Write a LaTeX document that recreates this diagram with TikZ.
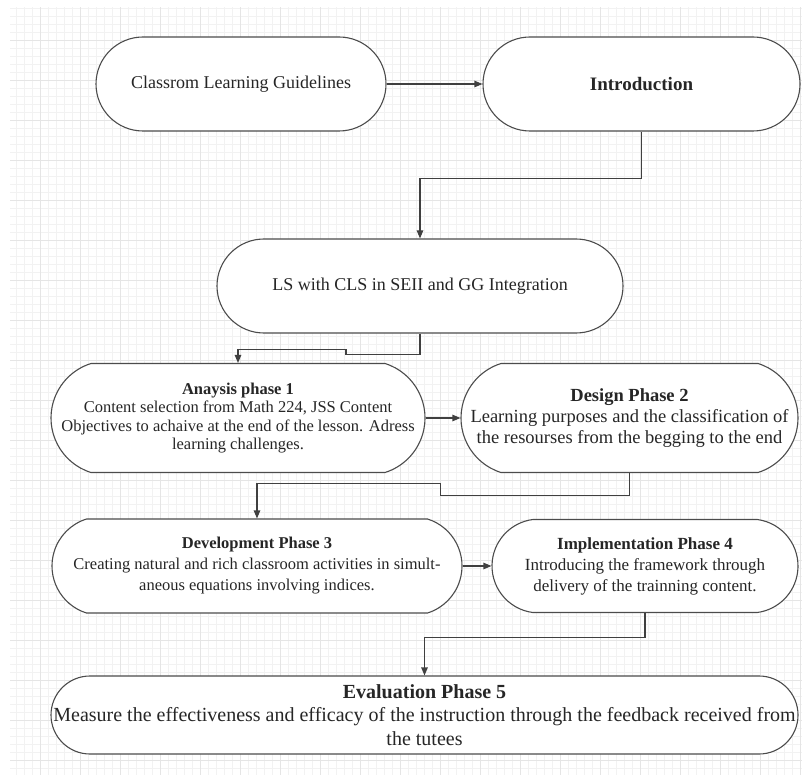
\documentclass[tikz,border=0pt]{standalone}
\usepackage{fontspec}
\setmainfont{Liberation Serif}
\usetikzlibrary{arrows.meta,shapes.misc}
\tikzset{
  % flow boxes: empty rounded ends, text sits in a centred label
  flowbox/.style = {rounded rectangle, draw=black!70, fill=white, inner sep=0pt, line width=1.1pt},
  startbox/.style = {flowbox, rounded rectangle arc length=180, minimum height=94pt},
  phasebox/.style = {flowbox, rounded rectangle arc length=145},
  boxtext/.style = {align=center, inner sep=0pt, text=black!85, font=\fontsize{18}{21}\selectfont},
  phasetext/.style = {boxtext, font=\fontsize{18.5}{21}\selectfont},
  smalltext/.style = {boxtext, font=\fontsize{16.5}{18.5}\selectfont},
  link/.style = {draw=black!75, line width=1.1pt, -{Triangle[length=8pt,width=6.5pt]}}
}

\begin{document}
\begin{tikzpicture}[x=1pt,y=-1pt]
    \useasboundingbox (0,0) rectangle (802,775);
    % background grid
    \draw[gray!10, step=8pt] (10pt,-775pt) grid (802pt,-7pt);
    \draw[gray!20, step=40pt] (10pt,-775pt) grid (802pt,-7pt);
    % Start nodes:
    \node [startbox, minimum width=290pt][label={[boxtext]center:{Classrom Learning Guidelines}}] (guide) at (241,84) {};
    \node [startbox, minimum width=317pt][label={[boxtext, font=\fontsize{19}{21}\selectfont]center:{\textbf{Introduction}}}] (intro) at (641.5,84) {};
    \node [startbox, minimum width=406pt][label={[boxtext]center:{LS with CLS in SEII and GG Integration}}] (lsint) at (420,286) {};
    % Phase 1 and 2:
    \node [phasebox, minimum width=374pt, minimum height=109pt]
          [label={[smalltext]center:{\textbf{Anaysis phase 1}\\Content selection from Math 224, JSS Content\\Objectives to achaive at the end of the lesson. Adress\\learning challenges.}}] (analysis) at (238,418) {};
    \node [phasebox, minimum width=337pt, minimum height=109pt]
          [label={[phasetext]center:{\textbf{Design Phase 2}\\Learning purposes and the classification of\\the resourses from the begging to the end}}] (design) at (629.5,418) {};
    % Phase 3 and 4:
    \node [phasebox, minimum width=410pt, minimum height=94pt]
          [label={[smalltext, font=\fontsize{16.5}{21}\selectfont]center:{\textbf{Development Phase 3}\\Creating natural and rich classroom activities in simult-\\aneous equations involving indices.}}] (dev) at (257,566) {};
    \node [phasebox, rounded rectangle arc length=165, minimum width=306pt, minimum height=93pt]
          [label={[phasetext, font=\fontsize{17}{21}\selectfont]center:{\textbf{Implementation Phase 4}\\Introducing the framework through\\delivery of the trainning content.}}] (impl) at (645,566) {};
    % Phase 5:
    \node [phasebox, rounded rectangle arc length=180, minimum width=747pt, minimum height=78pt]
          [label={[boxtext, font=\fontsize{20}{23.5}\selectfont]center:{\textbf{Evaluation Phase 5}\\Measure the effectiveness and efficacy of the instruction through the feedback received from\\the tutees}}] (eval) at (424.5,715) {};
    % Connectors:
    \draw[link] (guide.east) -- (intro.west);
    \draw[link] (intro.south) -- ++(0,47) -| (lsint.north);
    \draw[link] (lsint.south) -- ++(0,21) -- ++(-74,0) -- ++(0,-5) -| (analysis.north);
    \draw[link] (analysis.east) -- (design.west);
    \draw[link] (design.south) -- ++(0,22) -- ++(-189,0) -- ++(0,-12) -| (dev.north);
    \draw[link] (dev.east) -- (impl.west);
    \draw[link] (impl.south) -- ++(0,24) -| (eval.north);
\end{tikzpicture}
\end{document}
